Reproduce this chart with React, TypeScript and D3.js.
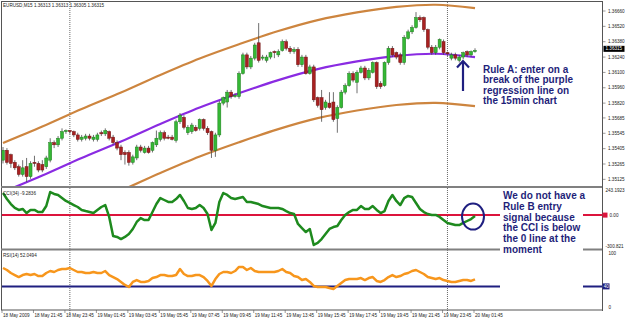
import React from 'react'
import * as d3 from 'd3'

// EURUSD M15, 121 bars from 18 May 19:45 to 20 May 01:45
const opens = [
  1.3530, 1.3539, 1.3535, 1.3528, 1.3524, 1.3517, 1.3524, 1.3515, 1.3528, 1.3527,
  1.3526, 1.3524, 1.3530, 1.3546, 1.3544, 1.3550, 1.3556, 1.3557, 1.3556, 1.3553,
  1.3549, 1.3550, 1.3552, 1.3549, 1.3549, 1.3555, 1.3554, 1.3556, 1.3551, 1.3546,
  1.3542, 1.3537, 1.3537, 1.3528, 1.3532, 1.3542, 1.3537, 1.3541, 1.3539, 1.3544,
  1.3549, 1.3555, 1.3551, 1.3551, 1.3548, 1.3565, 1.3569, 1.3555, 1.3556, 1.3560,
  1.3559, 1.3567, 1.3559, 1.3556, 1.3539, 1.3553, 1.3582, 1.3583, 1.3592, 1.3588,
  1.3588, 1.3609, 1.3626, 1.3615, 1.3623, 1.3637, 1.3623, 1.3621, 1.3624, 1.3629,
  1.3626, 1.3630, 1.3638, 1.3632, 1.3629, 1.3631, 1.3617, 1.3624, 1.3609, 1.3615,
  1.3587, 1.3587, 1.3578, 1.3582, 1.3583, 1.3568, 1.3578, 1.3592, 1.3598, 1.3609,
  1.3601, 1.3610, 1.3614, 1.3605, 1.3610, 1.3619, 1.3600, 1.3598, 1.3619, 1.3632,
  1.3628, 1.3626, 1.3619, 1.3641, 1.3647, 1.3651, 1.3660, 1.3660, 1.3649, 1.3633,
  1.3628, 1.3633, 1.3638, 1.3628, 1.3623, 1.3626, 1.3621, 1.3624, 1.3629, 1.3626,
  1.3629,
]
const highs = [
  1.3542, 1.3541, 1.3536, 1.3530, 1.3526, 1.3530, 1.3532, 1.3529, 1.3534, 1.3529,
  1.3530, 1.3534, 1.3550, 1.3548, 1.3552, 1.3559, 1.3558, 1.3557, 1.3557, 1.3555,
  1.3553, 1.3554, 1.3554, 1.3553, 1.3555, 1.3557, 1.3559, 1.3557, 1.3553, 1.3548,
  1.3544, 1.3539, 1.3539, 1.3535, 1.3544, 1.3544, 1.3543, 1.3543, 1.3547, 1.3557,
  1.3557, 1.3557, 1.3553, 1.3553, 1.3567, 1.3573, 1.3571, 1.3562, 1.3564, 1.3562,
  1.3568, 1.3568, 1.3561, 1.3557, 1.3555, 1.3584, 1.3588, 1.3594, 1.3594, 1.3591,
  1.3611, 1.3628, 1.3628, 1.3625, 1.3637, 1.3655, 1.3626, 1.3626, 1.3629, 1.3630,
  1.3631, 1.3640, 1.3640, 1.3634, 1.3633, 1.3633, 1.3626, 1.3626, 1.3617, 1.3617,
  1.3588, 1.3594, 1.3585, 1.3592, 1.3592, 1.3580, 1.3594, 1.3600, 1.3611, 1.3611,
  1.3612, 1.3616, 1.3616, 1.3614, 1.3620, 1.3620, 1.3602, 1.3620, 1.3634, 1.3634,
  1.3629, 1.3628, 1.3644, 1.3649, 1.3653, 1.3665, 1.3662, 1.3661, 1.3650, 1.3635,
  1.3635, 1.3641, 1.3640, 1.3629, 1.3628, 1.3628, 1.3626, 1.3629, 1.3630, 1.3630,
  1.3632,
]
const lows = [
  1.3527, 1.3526, 1.3523, 1.3521, 1.3515, 1.3515, 1.3510, 1.3513, 1.3524, 1.3519,
  1.3519, 1.3522, 1.3528, 1.3541, 1.3542, 1.3548, 1.3554, 1.3554, 1.3551, 1.3547,
  1.3547, 1.3548, 1.3548, 1.3547, 1.3547, 1.3552, 1.3552, 1.3548, 1.3544, 1.3539,
  1.3530, 1.3526, 1.3525, 1.3526, 1.3530, 1.3537, 1.3536, 1.3536, 1.3537, 1.3542,
  1.3547, 1.3548, 1.3549, 1.3548, 1.3546, 1.3563, 1.3558, 1.3553, 1.3554, 1.3556,
  1.3557, 1.3557, 1.3553, 1.3532, 1.3533, 1.3551, 1.3580, 1.3578, 1.3586, 1.3587,
  1.3586, 1.3608, 1.3613, 1.3613, 1.3621, 1.3619, 1.3621, 1.3619, 1.3622, 1.3623,
  1.3624, 1.3629, 1.3630, 1.3627, 1.3627, 1.3615, 1.3615, 1.3608, 1.3608, 1.3583,
  1.3578, 1.3565, 1.3576, 1.3577, 1.3565, 1.3555, 1.3577, 1.3590, 1.3597, 1.3601,
  1.3591, 1.3609, 1.3603, 1.3603, 1.3609, 1.3595, 1.3595, 1.3597, 1.3617, 1.3624,
  1.3622, 1.3617, 1.3617, 1.3640, 1.3645, 1.3650, 1.3656, 1.3647, 1.3631, 1.3626,
  1.3626, 1.3631, 1.3626, 1.3625, 1.3621, 1.3621, 1.3619, 1.3622, 1.3624, 1.3624,
  1.3628,
]
const closes = [
  1.3539, 1.3528, 1.3527, 1.3523, 1.3517, 1.3523, 1.3515, 1.3527, 1.3527, 1.3521,
  1.3521, 1.3532, 1.3546, 1.3544, 1.3550, 1.3556, 1.3557, 1.3556, 1.3553, 1.3549,
  1.3551, 1.3552, 1.3550, 1.3551, 1.3553, 1.3554, 1.3557, 1.3550, 1.3546, 1.3541,
  1.3535, 1.3535, 1.3528, 1.3533, 1.3542, 1.3539, 1.3541, 1.3537, 1.3546, 1.3550,
  1.3555, 1.3550, 1.3550, 1.3549, 1.3565, 1.3571, 1.3560, 1.3560, 1.3562, 1.3557,
  1.3567, 1.3559, 1.3555, 1.3539, 1.3553, 1.3582, 1.3587, 1.3592, 1.3588, 1.3589,
  1.3609, 1.3626, 1.3615, 1.3623, 1.3635, 1.3621, 1.3624, 1.3624, 1.3628, 1.3628,
  1.3629, 1.3638, 1.3632, 1.3629, 1.3631, 1.3617, 1.3624, 1.3609, 1.3615, 1.3585,
  1.3580, 1.3576, 1.3583, 1.3578, 1.3567, 1.3578, 1.3592, 1.3598, 1.3609, 1.3603,
  1.3610, 1.3614, 1.3605, 1.3612, 1.3619, 1.3597, 1.3597, 1.3619, 1.3632, 1.3626,
  1.3624, 1.3619, 1.3642, 1.3647, 1.3651, 1.3660, 1.3658, 1.3649, 1.3633, 1.3628,
  1.3633, 1.3640, 1.3628, 1.3627, 1.3626, 1.3623, 1.3624, 1.3628, 1.3626, 1.3629,
  1.3630,
]

// polynomial regression channel, read at every 10th bar
const regBars = [0, 10, 20, 30, 40, 50, 60, 70, 80, 90, 100, 110, 120]
const regCenter = [1.3501, 1.3516, 1.3532, 1.3547, 1.3563, 1.3578, 1.3591, 1.3603, 1.3613, 1.3620, 1.3625, 1.3627, 1.3624]
const regWidth = 0.00447

const cci = [
  202, 147, 101, 65, 47, 56, 19, 47, 47, 28,
  28, 83, 211, 193, 184, 156, 129, 111, 92, 74,
  47, 37, 28, 19, 47, 74, 92, -17, -191, -200,
  -219, -200, -173, -127, -63, -27, -45, -45, 28, 101,
  156, 138, 120, 120, 147, 184, 129, 65, 56, 65,
  92, 65, 10, -136, -72, 120, 202, 184, 156, 147,
  156, 165, 120, 120, 111, 101, 83, 74, 65, 65,
  65, 56, 37, 19, 10, -81, -118, -155, -127, -273,
  -255, -219, -173, -127, -109, -100, -45, 1, 28, 47,
  47, 83, 56, 56, 83, 47, 19, 37, 129, 184,
  129, 92, 156, 175, 165, 111, 56, 28, 10, 1,
  1, -17, -45, -72, -81, -91, -91, -72, -54, -36,
  -9.2836,
]
const rsi = [
  71.2, 67.8, 62.7, 59.3, 55.9, 59.3, 61.0, 59.3, 61.0, 57.6,
  57.6, 62.7, 66.1, 64.4, 67.8, 69.5, 69.5, 71.2, 67.8, 64.4,
  64.4, 62.7, 62.7, 64.4, 62.7, 62.7, 66.1, 59.3, 55.9, 52.5,
  47.5, 42.4, 39.0, 47.5, 50.8, 47.5, 47.5, 49.2, 54.2, 55.9,
  59.3, 59.3, 57.6, 57.6, 59.3, 69.5, 61.0, 57.6, 57.6, 59.3,
  59.3, 55.9, 49.2, 40.7, 52.5, 61.0, 64.4, 64.4, 62.7, 66.1,
  72.9, 72.9, 67.8, 71.2, 66.1, 64.4, 64.4, 64.4, 64.4, 64.4,
  66.1, 69.5, 64.4, 62.7, 57.6, 55.9, 50.8, 52.5, 47.5, 40.7,
  39.0, 39.0, 39.0, 37.3, 35.6, 40.7, 45.8, 50.8, 52.5, 52.5,
  52.5, 54.2, 50.8, 54.2, 55.9, 49.2, 47.5, 50.8, 55.9, 59.3,
  55.9, 57.6, 61.0, 62.7, 66.1, 67.8, 64.4, 61.0, 55.9, 54.2,
  52.5, 54.2, 50.8, 49.2, 47.5, 47.5, 49.2, 50.8, 50.8, 49.2,
  52.0494,
]

const priceTicks = [1.36660, 1.36520, 1.36380, 1.36240, 1.36100, 1.35960, 1.35820, 1.35685, 1.35545, 1.35405, 1.35265, 1.35125]
const lastPrice = 1.36315
const cciLevel = 0
const rsiLevel = 40
const timeBars = [0, 8, 16, 24, 32, 40, 48, 56, 64, 72, 80, 88, 96, 104, 112, 120]
const timeLabels = [
  '18 May 2009', '18 May 21:45', '18 May 23:45', '19 May 01:45', '19 May 03:45', '19 May 05:45',
  '19 May 07:45', '19 May 09:45', '19 May 11:45', '19 May 13:45', '19 May 15:45', '19 May 17:45',
  '19 May 19:45', '19 May 21:45', '19 May 23:45', '20 May 01:45',
]
const daySeparators = [17, 113]

const ruleA = ['Rule A: enter on a', 'break of the purple', 'regression line on', 'the 15min chart']
const ruleB = ['We do not have a', 'Rule B entry', 'signal because', 'the CCI is below', 'the 0 line at the', 'moment']

const W = 625
const H = 319
const AXIS_X = 602.5
const small = { fontFamily: 'Liberation Sans, Arial, sans-serif', fontSize: 4.6, fill: '#222' }
const note = { fontFamily: 'Liberation Sans, Arial, sans-serif', fontSize: 10, fontWeight: 700, fill: '#1f1f7a' }
const navy = '#1f1f80'

export default function App() {
  const x = d3.scaleLinear().domain([0, 120]).range([3, 475])
  const y = d3.scaleLinear().domain([1.3666, 1.35265]).range([11, 164])
  const yCci = d3.scaleLinear().domain([-300.821, 243.1923]).range([248, 188.5])
  const yRsi = d3.scaleLinear().domain([0, 100]).range([310, 251])

  const regLine = (off: number) =>
    d3.line<number>()
      .x((_, i) => x(regBars[i]))
      .y((v) => y(v + off))
      .curve(d3.curveCatmullRom)(regCenter) || ''

  const cciPath = d3.line<number>().x((_, i) => x(i)).y((v) => yCci(v))(cci) || ''
  const rsiPath = d3.line<number>().x((_, i) => x(i)).y((v) => yRsi(v))(rsi) || ''

  return (
    <svg width={W} height={H} style={{ position: 'absolute', left: 0, top: 0, background: '#fff' }}>
      <defs>
        <clipPath id="main"><rect x={2} y={2} width={AXIS_X - 2} height={184} /></clipPath>
        <clipPath id="sub1"><rect x={2} y={188} width={AXIS_X - 2} height={60.5} /></clipPath>
        <clipPath id="sub2"><rect x={2} y={250.5} width={AXIS_X - 2} height={59} /></clipPath>
      </defs>

      {/* day separators */}
      {daySeparators.map((b) => (
        <line key={b} x1={x(b)} x2={x(b)} y1={2} y2={314} stroke="#444" strokeWidth={0.8} strokeDasharray="1,1" />
      ))}

      {/* main window */}
      <g clipPath="url(#main)">
        <path d={regLine(regWidth)} fill="none" stroke="#cd853f" strokeWidth={2.2} />
        <path d={regLine(-regWidth)} fill="none" stroke="#cd853f" strokeWidth={2.2} />
        <path d={regLine(0)} fill="none" stroke="#8a2be2" strokeWidth={2.2} />
        {closes.map((c, i) => {
          const o = opens[i]
          const up = c >= o
          const top = y(Math.max(o, c))
          const h = Math.max(1, y(Math.min(o, c)) - top)
          return (
            <g key={i}>
              <line x1={x(i)} x2={x(i)} y1={y(highs[i])} y2={y(lows[i])} stroke="#4a4a4a" strokeWidth={0.8} />
              <rect x={x(i) - 1.5} y={top} width={3} height={h}
                fill={up ? '#35b835' : '#a82020'} stroke={up ? '#1e7d1e' : '#6e1212'} strokeWidth={0.5} />
            </g>
          )
        })}
      </g>
      <text x={3} y={7} style={small}>EURUSD,M15  1.36313 1.36313 1.36305 1.36315</text>

      {/* CCI window */}
      <g clipPath="url(#sub1)">
        <line x1={2} x2={AXIS_X} y1={yCci(cciLevel)} y2={yCci(cciLevel)} stroke="#dc143c" strokeWidth={2} />
        <path d={cciPath} fill="none" stroke="#1e8a1e" strokeWidth={2.5} strokeLinejoin="round" />
      </g>
      <text x={3} y={194.5} style={small}>CCI(34) -9.2836</text>

      {/* RSI window */}
      <g clipPath="url(#sub2)">
        <line x1={2} x2={AXIS_X} y1={yRsi(rsiLevel)} y2={yRsi(rsiLevel)} stroke={navy} strokeWidth={2} />
        <path d={rsiPath} fill="none" stroke="#f7961c" strokeWidth={2.5} strokeLinejoin="round" />
      </g>
      <text x={3} y={256.5} style={small}>RSI(14) 52.0494</text>

      {/* frames and separators */}
      <line x1={1.5} x2={AXIS_X} y1={1.5} y2={1.5} stroke="#555" strokeWidth={1} />
      <line x1={1.5} x2={1.5} y1={1} y2={310} stroke="#555" strokeWidth={1} />
      <line x1={1} x2={AXIS_X} y1={187} y2={187} stroke="#808080" strokeWidth={2} />
      <line x1={1} x2={AXIS_X} y1={249.5} y2={249.5} stroke="#808080" strokeWidth={2} />
      <line x1={1} x2={AXIS_X} y1={310} y2={310} stroke="#555" strokeWidth={1} />
      <line x1={AXIS_X} x2={AXIS_X} y1={1} y2={311} stroke="#555" strokeWidth={1} />

      {/* price axis */}
      {priceTicks.map((p) => (
        <g key={p}>
          <line x1={AXIS_X} x2={AXIS_X + 3} y1={y(p)} y2={y(p)} stroke="#555" strokeWidth={0.6} />
          <text x={AXIS_X + 5.5} y={y(p) + 1.6} style={small}>{p.toFixed(5)}</text>
        </g>
      ))}
      <rect x={AXIS_X + 1} y={y(lastPrice) - 3} width={21} height={6} fill="#000" />
      <text x={AXIS_X + 3} y={y(lastPrice) + 1.6} style={{ ...small, fill: '#fff' }}>{lastPrice.toFixed(5)}</text>

      {/* indicator axes */}
      <text x={AXIS_X + 3} y={192} style={small}>243.1923</text>
      <rect x={AXIS_X} y={yCci(cciLevel) - 2.5} width={5} height={5} fill="#dc143c" />
      <text x={AXIS_X + 7} y={yCci(cciLevel) + 1.6} style={small}>0.00</text>
      <text x={AXIS_X + 3} y={248} style={small}>-300.821</text>
      <text x={AXIS_X + 6} y={255} style={small}>100</text>
      <rect x={AXIS_X} y={yRsi(rsiLevel) - 3} width={7} height={6} fill={navy} />
      <text x={AXIS_X + 1.2} y={yRsi(rsiLevel) + 1.6} style={{ ...small, fill: '#fff' }}>{rsiLevel}</text>
      <text x={AXIS_X + 6} y={309} style={small}>0</text>

      {/* time axis */}
      {timeBars.map((b, i) => (
        <g key={b}>
          <line x1={x(b) - 1} x2={x(b) - 1} y1={310} y2={313} stroke="#555" strokeWidth={0.6} />
          <text x={x(b)} y={316.5} style={small}>{timeLabels[i]}</text>
        </g>
      ))}

      {/* annotations */}
      <line x1={463} x2={463} y1={91} y2={61} stroke={navy} strokeWidth={2.2} />
      <polyline points="457,67.5 463,61 469,67.5" fill="none" stroke={navy} strokeWidth={2.2} />
      {ruleA.map((t, i) => (
        <text key={t} x={483} y={73 + i * 10.3} style={note}>{t}</text>
      ))}
      <rect x={500} y={189} width={83} height={101} fill="#fff" />
      {ruleB.map((t, i) => (
        <text key={t} x={503} y={199.3 + i * 10.7} style={note}>{t}</text>
      ))}
      <ellipse cx={x(120) - 2} cy={yCci(cciLevel) + 1.5} rx={11} ry={13} fill="none" stroke={navy} strokeWidth={2} />
    </svg>
  )
}
